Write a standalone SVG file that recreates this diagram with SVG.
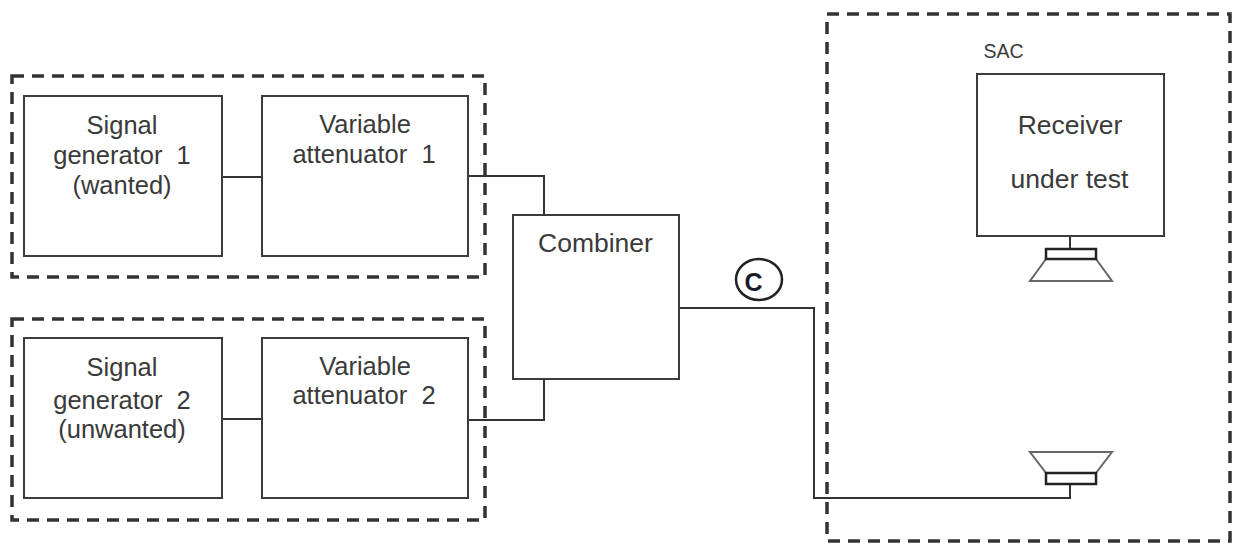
<svg xmlns="http://www.w3.org/2000/svg" width="1233" height="544" viewBox="0 0 1233 544">
<style>
.b{fill:#fff;stroke:#3c3c3c;stroke-width:2}
.d{fill:none;stroke:#333;stroke-width:3.5;stroke-dasharray:12 8}
.l{fill:none;stroke:#333;stroke-width:2}
.s{fill:none;stroke:#666;stroke-width:2}
.k{fill:none;stroke:#222;stroke-width:2.5}
text{font-family:"Liberation Sans",Arial,sans-serif;font-size:25.5px;fill:#3a3a3a;text-anchor:middle}
.m{font-size:26.5px}
</style>
<rect width="1233" height="544" fill="#fff"/>
<g id="connectors">
<path class="l" d="M222 177H262"/>
<path class="l" d="M222 419H262"/>
<path class="l" d="M468 176H544V215"/>
<path class="l" d="M468 420H544V379"/>
<path class="l" d="M679 308H814V498H1070V484"/>
<path class="l" d="M1070 236V249"/>
</g>
<g id="group-1"><rect class="d" x="12" y="76" width="473" height="201"/></g>
<g id="group-2"><rect class="d" x="12" y="319" width="473" height="201"/></g>
<g id="group-sac"><rect class="d" x="827" y="14" width="403" height="527"/><text x="1003.5" y="58" style="font-size:19.5px">SAC</text></g>
<g id="sg1"><rect class="b" x="24" y="96" width="198" height="160"/><text x="122" y="134">Signal</text><text x="122" y="164">generator&#160; 1</text><text x="122" y="194">(wanted)</text></g>
<g id="va1"><rect class="b" x="262" y="96" width="206" height="160"/><text x="365" y="133">Variable</text><text x="364" y="163">attenuator&#160; 1</text></g>
<g id="sg2"><rect class="b" x="24" y="338" width="198" height="160"/><text x="122" y="376">Signal</text><text x="122" y="409">generator&#160; 2</text><text x="122" y="438">(unwanted)</text></g>
<g id="va2"><rect class="b" x="262" y="338" width="206" height="160"/><text x="365" y="375">Variable</text><text x="364" y="404">attenuator&#160; 2</text></g>
<g id="combiner"><rect class="b" x="513" y="215" width="166" height="164"/><text class="m" x="595.5" y="252">Combiner</text></g>
<g id="c-marker"><ellipse cx="759" cy="279.5" rx="23" ry="20.5" fill="#fff" stroke="#222" stroke-width="2.5"/><text x="753.5" y="290.5" style="font-size:25px;font-weight:bold;fill:#1a1a2a">C</text></g>
<g id="receiver"><rect class="b" x="977" y="74" width="187" height="162"/><text class="m" x="1070" y="134">Receiver</text><text class="m" x="1069.5" y="188">under test</text></g>
<g id="antenna-rx"><path class="s" d="M1046 259L1030 281H1112L1096 259"/><rect class="k" x="1046" y="249" width="50" height="10"/></g>
<g id="antenna-tx"><path class="s" d="M1046 473L1030 452H1112L1096 473"/><rect class="k" x="1046" y="473" width="50" height="11"/></g>
</svg>
